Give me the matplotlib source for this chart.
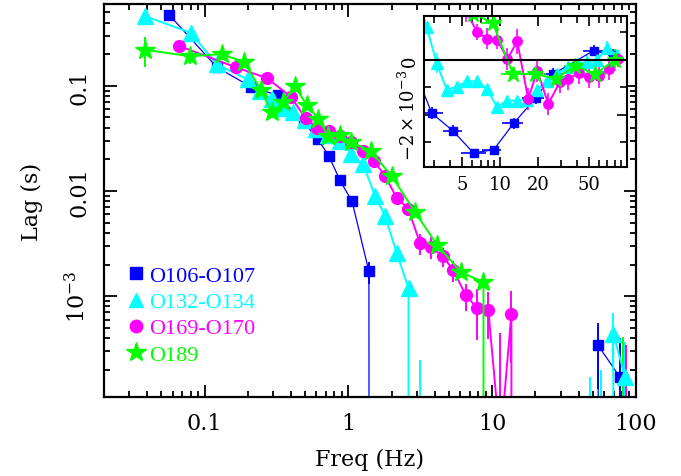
import matplotlib
matplotlib.use('Agg')
import numpy as np
import matplotlib.pyplot as plt
from matplotlib.lines import Line2D
from matplotlib.ticker import FixedLocator, NullFormatter

plt.rcParams['font.family'] = 'DejaVu Serif'
plt.rcParams['mathtext.fontset'] = 'dejavuserif'

# O106-O107
freq_a = [0.057, 0.122, 0.21, 0.324, 0.49, 0.615, 0.734, 0.875, 1.06, 1.39,
          2.88, 4.22, 6.15, 8.87, 12.8, 19.0, 26.2, 54.6, 77.2]
lag_a = [0.47, 0.150, 0.098, 0.081, 0.045, 0.031, 0.0214, 0.0126, 0.0080, 0.00172,
         -0.00194, -0.00258, -0.00339, -0.00327, -0.00230, -0.00139, -0.00051, 0.00034, 0.00017]
err_a = [0.02, 0.006, 0.004, 0.003, 0.002, 0.0015, 0.001, 0.0007, 0.0005, 0.0004,
         0.00022, 0.0002, 0.00015, 0.00015, 0.0002, 0.0002, 0.0002, 0.00021, 0.00023]
# bin edges of the high-freq points (inset)
lo_a = [2.52, 3.5, 4.9, 7.2, 10.4, 14.8, 22.3, 44.6, 70.5]
hi_a = [3.5, 5.0, 7.7, 10.2, 15.2, 22.3, 31.0, 66.5, 87.0]

# O132-O134
freq_b = [0.0386, 0.080, 0.122, 0.20, 0.245, 0.293, 0.35, 0.41, 0.50, 0.60,
          0.72, 0.875, 1.05, 1.27, 1.53, 1.80, 2.17, 2.62, 3.15, 3.78,
          4.54, 5.45, 6.54, 7.86, 9.43, 11.3, 13.6, 16.3, 19.6, 23.5,
          28.2, 34.0, 41.0, 48.0, 57.5, 69.5, 84.0]
lag_b = [0.46, 0.32, 0.16, 0.115, 0.09, 0.075, 0.062, 0.056, 0.047, 0.039,
         0.034, 0.030, 0.0224, 0.0179, 0.0090, 0.0058, 0.00255, 0.00120, -0.00012, -0.00109,
         -0.00097, -0.00078, -0.00078, -0.00105, -0.00172, -0.00148, -0.00148, -0.00145, -0.00108, -0.00075,
         -0.00050, -0.00027, -0.00015, -0.00008, -0.00002, 0.00044, 0.00017]
err_b = [0.05, 0.02, 0.008, 0.005, 0.004, 0.003, 0.003, 0.0025, 0.002, 0.0015,
         0.0012, 0.001, 0.0008, 0.0006, 0.0004, 0.0003, 0.0002, 0.00015, 0.00037, 0.00015,
         0.00012, 0.00012, 0.00012, 0.00012, 0.00012, 0.00012, 0.00012, 0.00012, 0.00015, 0.00015,
         0.00015, 0.00015, 0.00015, 0.00025, 0.00022, 0.00025, 0.0002]

# O169-O170
freq_c = [0.0665, 0.165, 0.273, 0.397, 0.505, 0.608, 0.738, 0.875, 1.05, 1.265,
          1.51, 1.80, 2.17, 2.61, 3.15, 3.74, 4.53, 5.37, 6.55, 7.81,
          9.40, 11.4, 13.6, 16.6, 19.6, 23.9, 29.5, 34.5, 41.5, 49.8,
          59.8, 71.7, 85.5]
lag_c = [0.240, 0.150, 0.118, 0.079, 0.049, 0.040, 0.037, 0.033, 0.029, 0.024,
         0.0192, 0.0139, 0.0086, 0.0068, 0.00318, 0.00295, 0.00240, 0.00177, 0.00102, 0.00078,
         0.00074, 0.00004, 0.00068, -0.00142, -0.00039, -0.00160, -0.00081, -0.00069, -0.00047, -0.00063,
         -0.00057, -0.00033, 0.00004]
err_c = [0.015, 0.008, 0.006, 0.004, 0.003, 0.0025, 0.002, 0.002, 0.0015, 0.0012,
         0.001, 0.0008, 0.0006, 0.0005, 0.0007, 0.0007, 0.0005, 0.0004, 0.0003, 0.0004,
         0.00035, 0.00041, 0.00045, 0.0004, 0.0004, 0.0004, 0.0004, 0.0004, 0.0004, 0.0004,
         0.00045, 0.0004, 0.0003]

# O189
freq_d = [0.0387, 0.0797, 0.1317, 0.188, 0.246, 0.293, 0.353, 0.426, 0.514, 0.618,
          0.726, 0.875, 1.04, 1.43, 2.0, 2.91, 4.12, 6.08, 8.7, 12.6,
          18.8, 27.4, 39.0, 56.2, 80.9]
lag_d = [0.220, 0.191, 0.200, 0.169, 0.0917, 0.0559, 0.0705, 0.0986, 0.0655, 0.0489,
         0.0330, 0.0339, 0.0293, 0.0240, 0.0139, 0.0063, 0.0031, 0.00169, 0.00136, -0.00051,
         -0.00051, -0.00069, -0.00021, -0.00051, 0.00001]
err_d = [0.07, 0.03, 0.025, 0.02, 0.01, 0.006, 0.006, 0.008, 0.005, 0.004,
         0.003, 0.003, 0.002, 0.0015, 0.001, 0.0005, 0.0003, 0.0002, 0.00016, 0.00015,
         0.00015, 0.00015, 0.0002, 0.0002, 0.0004]
lo_d = [7.0, 10.2, 15.2, 23.0, 32.0, 47.0, 68.0]
hi_d = [10.2, 15.2, 23.0, 32.0, 47.0, 68.0, 98.0]

labels = ['O106-O107', 'O132-O134', 'O169-O170', 'O189']

# style: color, marker, marker size, line width, legend marker size
styles = [('#0000ff', 's', 7, 0.9, 9),
          ('#00ffff', '^', 11.5, 1.4, 10),
          ('#ff00ff', 'o', 8.5, 1.4, 9),
          ('#00ff00', '*', 15, 1.4, 15)]

data = [(freq_a, lag_a, err_a), (freq_b, lag_b, err_b),
        (freq_c, lag_c, err_c), (freq_d, lag_d, err_d)]
xbins = {0: (lo_a, hi_a), 3: (lo_d, hi_d)}

fig = plt.figure(figsize=(6.81, 4.77), dpi=100)
ax = fig.add_axes([104 / 681, 1 - 398 / 477, 532 / 681, 393 / 477])

for (f, l, e), (c, m, ms, lw, lms) in zip(data, styles):
  ax.errorbar(f, l, yerr=e, color=c, marker=m, ms=ms, lw=lw, elinewidth=1.4,
              capsize=0, mec=c, mfc=c)

ax.set_xscale('log')
ax.set_yscale('log')
ax.set_xlim(0.02, 100)
ax.set_ylim(1.1e-4, 0.6)

ax.set_xticks([0.1, 1, 10, 100])
ax.set_xticklabels(['0.1', '1', '10', '100'], fontsize=16)
ax.xaxis.set_minor_locator(FixedLocator(
  [k * 10.0**p for p in range(-2, 2) for k in range(2, 10)]))
ax.xaxis.set_minor_formatter(NullFormatter())
ax.set_yticks([1e-3, 1e-2, 1e-1])
ax.set_yticklabels([r'$10^{-3}$', '0.01', '0.1'], fontsize=16, rotation=90, va='center')
ax.yaxis.set_minor_locator(FixedLocator(
  [k * 10.0**p for p in range(-4, 0) for k in range(2, 10)]))
ax.yaxis.set_minor_formatter(NullFormatter())
ax.tick_params(which='both', direction='in', top=True, right=True, width=1.3)
ax.tick_params(which='major', length=9)
ax.tick_params(which='minor', length=4.5)
ax.tick_params(axis='x', pad=11)
ax.tick_params(axis='y', pad=10)
for s in ax.spines.values():
  s.set_linewidth(1.6)

ax.set_xlabel('Freq (Hz)', fontsize=16, labelpad=10)
ax.set_ylabel('Lag (s)', fontsize=16, labelpad=16)

handles = [Line2D([], [], ls='none', marker=m, ms=lms, color=c, mec=c)
           for (c, m, ms, lw, lms) in styles]
leg = ax.legend(handles, labels, loc='lower left', bbox_to_anchor=(0.03, 0.06),
                frameon=False, handlelength=0.6, handletextpad=0.3, labelspacing=0.25,
                borderaxespad=0, prop={'family': 'Liberation Serif', 'size': 16})
for t, st in zip(leg.get_texts(), styles):
  t.set_color(st[0])

# inset: linear lag at high frequency
ins = fig.add_axes([424 / 681, 1 - 168 / 477, 203 / 681, 151 / 477])
ins.set_facecolor('white')
for i, ((f, l, e), (c, m, ms, lw, lms)) in enumerate(zip(data, styles)):
  xe = None
  if i in xbins:
    lo, hi = xbins[i]
    n = len(lo)
    fa = np.array(f[-n:])
    xe = np.zeros((2, len(f)))
    xe[0, -n:] = fa - np.array(lo)
    xe[1, -n:] = np.array(hi) - fa
  ins.errorbar(f, l, yerr=e, xerr=xe, color=c, marker=m, ms=ms * 0.8, lw=lw,
               elinewidth=1.2, capsize=0, mec=c, mfc=c)
ins.axhline(0, color='black', lw=1.5, zorder=5)
ins.set_xscale('log')
ins.set_xlim(2.5, 100)
ins.set_ylim(-3.9e-3, 1.6e-3)
ins.set_xticks([5, 10, 20, 50])
ins.set_xticklabels(['5', '10', '20', '50'], fontsize=13)
ins.xaxis.set_minor_locator(FixedLocator([3, 4, 6, 7, 8, 9, 30, 40, 60, 70, 80, 90]))
ins.xaxis.set_minor_formatter(NullFormatter())
ins.set_yticks([-2e-3, 0])
ins.set_yticklabels([r'$-2\times10^{-3}$', '0'], fontsize=13, rotation=90, va='center')
ins.yaxis.set_minor_locator(FixedLocator([-3e-3, -1e-3, 1e-3]))
ins.tick_params(which='both', direction='in', top=True, right=True, width=1.2)
ins.tick_params(which='major', length=7)
ins.tick_params(which='minor', length=5)
ins.tick_params(axis='x', pad=6)
ins.tick_params(axis='y', pad=4)
for s in ins.spines.values():
  s.set_linewidth(1.5)

fig.savefig('out.png', dpi=100)
